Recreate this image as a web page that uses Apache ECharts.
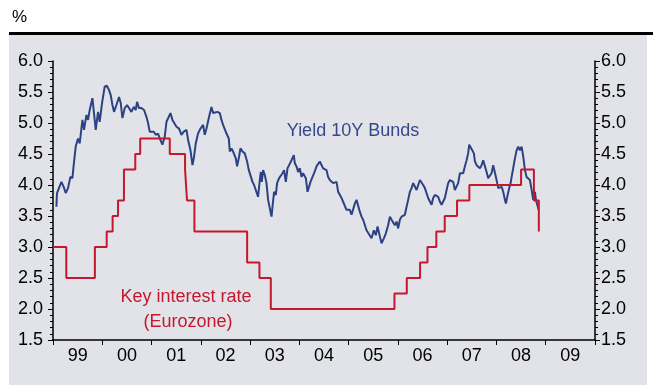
<!DOCTYPE html>
<html>
<head>
<meta charset="utf-8">
<script src="https://cdn.jsdelivr.net/npm/echarts@6/dist/echarts.min.js"></script>
<style>
html,body{margin:0;padding:0;background:#fff;}
#c{width:653px;height:385px;}
</style>
</head>
<body>
<div id="c"></div>
<script>
// Year labels (category axis, one per year)
var yearLabels = ['99','00','01','02','03','04','05','06','07','08','09'];
// Y axis ticks
var yMin = 1.5, yMax = 6.0, yStep = 0.5;

// ECB key interest rate: change dates (decimal years) and levels (%)
var rateT = [1999.00,1999.27,1999.85,2000.09,2000.21,2000.32,2000.44,2000.67,2000.77,2001.37,2001.68,2001.72,2001.87,2002.94,2003.19,2003.42,2005.93,2006.18,2006.45,2006.60,2006.78,2006.95,2007.20,2007.45,2008.50,2008.76,2008.86];
var rateY = [3.00,2.50,3.00,3.25,3.50,3.75,4.25,4.50,4.75,4.50,4.25,3.75,3.25,2.75,2.50,2.00,2.25,2.50,2.75,3.00,3.25,3.50,3.75,4.00,4.25,3.75,3.25];

// Yield 10Y Bunds: dates (decimal years) and yields (%)
var bundT = [1999.069,1999.081,1999.171,1999.217,1999.258,1999.305,1999.353,1999.394,1999.420,1999.461,1999.508,1999.542,1999.597,1999.629,1999.678,1999.711,1999.745,1999.800,1999.832,1999.867,1999.914,1999.948,1999.995,2000.050,2000.096,2000.137,2000.172,2000.206,2000.239,2000.287,2000.340,2000.375,2000.409,2000.456,2000.503,2000.543,2000.592,2000.639,2000.679,2000.706,2000.746,2000.795,2000.848,2000.896,2000.929,2000.963,2000.998,2001.045,2001.085,2001.132,
2001.167,2001.221,2001.268,2001.303,2001.349,2001.384,2001.424,2001.457,2001.506,2001.558,2001.607,2001.654,2001.709,2001.741,2001.790,2001.831,2001.863,2001.897,2001.944,2001.979,2002.013,2002.046,2002.080,2002.115,2002.168,2002.216,2002.249,2002.283,2002.338,2002.385,2002.419,2002.452,2002.486,2002.521,2002.568,2002.588,2002.622,2002.655,2002.710,2002.736,2002.777,2002.805,2002.846,2002.892,2002.939,2002.974,
2003.008,2003.049,2003.081,2003.116,2003.162,2003.197,2003.217,2003.238,2003.264,2003.299,2003.333,2003.366,2003.386,2003.414,2003.435,2003.455,2003.487,2003.522,2003.548,2003.589,2003.623,2003.658,2003.690,2003.725,2003.759,2003.792,2003.820,2003.841,2003.861,2003.887,2003.908,2003.942,2003.975,2004.009,2004.044,2004.076,2004.131,2004.166,2004.192,2004.226,2004.267,2004.299,2004.348,2004.381,2004.415,2004.450,2004.482,2004.517,2004.551,2004.584,2004.618,2004.653,2004.685,2004.720,2004.754,2004.787,2004.821,2004.856,2004.888,2004.923,2004.957,2004.990,
2005.024,2005.059,2005.091,2005.126,2005.160,2005.193,2005.227,2005.262,2005.294,2005.329,2005.363,2005.396,2005.465,2005.512,2005.552,2005.587,2005.634,2005.668,2005.715,2005.755,2005.802,2005.837,2005.871,2005.904,2005.938,2005.973,2006.005,2006.040,2006.074,2006.107,2006.141,2006.176,2006.208,2006.243,2006.277,2006.310,2006.344,2006.379,2006.411,2006.446,2006.480,2006.513,2006.547,2006.582,2006.614,2006.649,2006.683,2006.716,2006.750,2006.785,2006.817,2006.852,2006.886,2006.907,2006.953,2006.988,
2007.020,2007.055,2007.089,2007.122,2007.156,2007.191,2007.223,2007.258,2007.292,2007.325,2007.359,2007.394,2007.426,2007.447,2007.481,2007.508,2007.542,2007.563,2007.597,2007.629,2007.664,2007.698,2007.731,2007.766,2007.800,2007.832,2007.867,2007.901,2007.934,2007.968,2007.989,2008.015,2008.036,2008.070,2008.105,2008.137,2008.172,2008.192,2008.227,2008.259,2008.287,2008.308,2008.340,2008.375,2008.409,2008.442,2008.476,2008.511,2008.543,2008.578,2008.612,2008.645,2008.679,2008.714,2008.746,2008.781,2008.801,2008.827,2008.856];
var bundY = [3.65,3.87,4.05,3.97,3.87,3.95,4.13,4.11,4.32,4.62,4.75,4.67,5.05,4.89,5.13,5.05,5.21,5.40,5.16,4.89,5.18,5.02,5.32,5.59,5.60,5.53,5.45,5.29,5.18,5.29,5.42,5.32,5.08,5.24,5.29,5.26,5.18,5.26,5.21,5.34,5.24,5.24,5.21,5.10,5.00,4.86,4.83,4.86,4.81,4.83,
4.75,4.65,4.78,5.02,5.10,5.16,5.05,5.08,4.94,4.91,4.81,4.86,4.89,4.73,4.56,4.32,4.46,4.67,4.83,4.89,4.86,4.97,4.81,4.91,5.10,5.26,5.16,5.18,5.18,5.16,5.05,4.97,5.00,4.83,4.75,4.54,4.59,4.54,4.43,4.30,4.46,4.59,4.54,4.51,4.38,4.24,
4.27,4.05,4.00,3.97,3.81,4.08,4.21,4.05,4.24,4.16,4.03,3.76,3.73,3.57,3.49,3.65,3.89,3.84,4.03,4.11,4.13,4.19,4.24,4.05,4.27,4.32,4.35,4.40,4.38,4.48,4.35,4.30,4.21,4.27,4.13,4.19,4.11,3.89,3.87,4.05,4.13,4.19,4.30,4.32,4.38,4.35,4.27,4.24,4.24,4.13,4.08,4.11,4.03,4.00,4.05,3.89,3.87,3.79,3.73,3.70,3.60,3.62,
3.60,3.52,3.49,3.70,3.76,3.73,3.57,3.49,3.44,3.41,3.27,3.30,3.14,3.27,3.19,3.33,3.17,3.06,3.14,3.22,3.35,3.49,3.44,3.41,3.35,3.41,3.30,3.44,3.49,3.46,3.52,3.65,3.76,3.89,3.95,4.03,4.00,3.92,3.89,4.08,4.09,4.00,3.95,3.92,3.79,3.81,3.68,3.79,3.84,3.87,3.81,3.73,3.68,3.65,3.79,3.92,
4.03,4.08,4.11,4.05,3.92,3.95,4.03,4.19,4.21,4.19,4.30,4.40,4.51,4.65,4.67,4.56,4.51,4.38,4.32,4.35,4.27,4.32,4.40,4.38,4.21,4.11,4.08,4.19,4.32,4.30,4.13,4.03,3.95,3.92,3.97,3.89,3.76,3.70,3.84,3.95,4.03,4.13,4.27,4.43,4.56,4.62,4.56,4.62,4.46,4.24,4.13,4.11,4.08,3.92,3.76,3.89,3.76,3.79,3.60];

var bundData = bundT.map(function(t,i){return [t,bundY[i]];});
var rateData = rateT.map(function(t,i){return [t,rateY[i]];});

var FONT = '"Liberation Sans", Arial, sans-serif';
var chart = echarts.init(document.getElementById('c'), null, {renderer:'canvas'});

function yAxisCfg(pos, margin){
  return {
    type:'value', position:pos, min:yMin, max:yMax, interval:yStep,
    axisLine:{show:true, lineStyle:{color:'#000', width:1.5}},
    axisTick:{show:true, length:5, lineStyle:{color:'#000', width:1}},
    minorTick:{show:true, splitNumber:5, length:3, lineStyle:{color:'#000', width:1}},
    splitLine:{show:false},
    axisLabel:{margin:margin, color:'#000', fontSize:18, fontFamily:FONT,
      formatter:function(v){return v.toFixed(1);}}
  };
}

chart.setOption({
  animation:false,
  backgroundColor:'#ffffff',
  graphic:[
    {type:'rect', z:-10, shape:{x:9, y:35, width:638, height:350}, style:{fill:'#e2e3e8'}},
    {type:'rect', z:-9, shape:{x:9, y:32, width:644, height:3}, style:{fill:'#000'}},
    {type:'text', left:12, top:9, style:{text:'%', fontSize:17, fontFamily:FONT, fill:'#000'}},
    {type:'text', z:10, x:353, y:131, style:{text:'Yield 10Y Bunds', fontSize:18, fontFamily:FONT, fill:'#34498a', align:'center', verticalAlign:'middle'}},
    {type:'text', z:10, x:186, y:297, style:{text:'Key interest rate', fontSize:18, fontFamily:FONT, fill:'#c3182d', align:'center', verticalAlign:'middle'}},
    {type:'text', z:10, x:188, y:322, style:{text:'(Eurozone)', fontSize:18, fontFamily:FONT, fill:'#c3182d', align:'center', verticalAlign:'middle'}}
  ],
  grid:{left:53, right:58, top:61, bottom:45, containLabel:false},
  xAxis:[
    {type:'value', min:1999, max:2010, show:false},
    {type:'category', data:yearLabels, boundaryGap:true, position:'bottom',
      axisLine:{show:true, lineStyle:{color:'#000', width:1.5}},
      axisTick:{show:true, length:5, alignWithLabel:false, lineStyle:{color:'#000', width:1}},
      axisLabel:{margin:7, color:'#000', fontSize:18, fontFamily:FONT},
      splitLine:{show:false}}
  ],
  yAxis:[ yAxisCfg('left', 10), yAxisCfg('right', 6) ],
  series:[
    {name:'Yield 10Y Bunds', type:'line', xAxisIndex:0, yAxisIndex:0, data:bundData,
      showSymbol:false, symbol:'none', lineStyle:{color:'#2c4283', width:2}, z:3},
    {name:'Key interest rate', type:'line', xAxisIndex:0, yAxisIndex:0, data:rateData, step:'end',
      showSymbol:false, symbol:'none', lineStyle:{color:'#c3182d', width:2}, z:4}
  ]
});
</script>
</body>
</html>
